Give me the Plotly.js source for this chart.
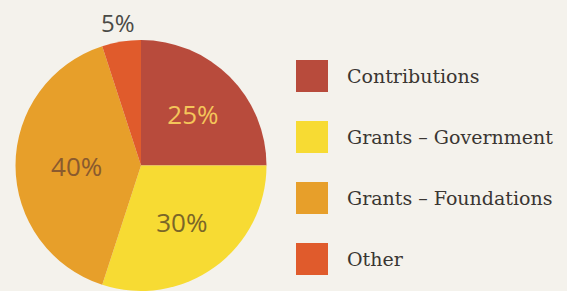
<!DOCTYPE html>
<html>
<head>
<meta charset="utf-8">
<script src="https://cdn.plot.ly/plotly-3.0.1.min.js"></script>
<style>html,body{margin:0;padding:0;background:#f4f2ec;}#chart{width:567px;height:291px;}</style>
</head>
<body>
<div id="chart"></div>
<script>
var categories = ["Contributions", "Grants \u2013 Government", "Grants \u2013 Foundations", "Other"];
var values = [25, 30, 40, 5];
var colors = ["#b84b3c", "#f7db33", "#e79f2a", "#e05b2c"];
var textColors = ["#f4c55a", "#7a6628", "#8a5a2e", "#4a4a46"];
var insideLabel = [true, true, true, false];

var W = 567, H = 291;
var dom = {x: [15.5/W, 266.5/W], y: [0, 1 - 40/H]};
var total = values.reduce(function(a, b){ return a + b; }, 0);

var trace = {
  type: "pie",
  labels: categories,
  values: values,
  sort: false,
  direction: "clockwise",
  rotation: 0,
  marker: {colors: colors, line: {width: 0}},
  texttemplate: insideLabel.map(function(v){ return v ? "%{percent:.0%}" : ""; }),
  textposition: "inside",
  insidetextorientation: "horizontal",
  textfont: {family: "Open Sans", size: 26, color: textColors},
  hoverinfo: "none",
  showlegend: false,
  domain: dom
};

var shapes = [], annotations = [];
var legX0 = 296/W, legX1 = 328/W, boxH = 32/H;
var legTop = 76, legStep = 61;
for (var i = 0; i < categories.length; i++) {
  var cy = 1 - (legTop + i*legStep)/H;
  shapes.push({type: "rect", xref: "paper", yref: "paper",
    x0: legX0, x1: legX1, y0: cy - boxH/2, y1: cy + boxH/2,
    fillcolor: colors[i], line: {width: 0}});
  annotations.push({xref: "paper", yref: "paper", x: 345/W, y: cy,
    xanchor: "left", yanchor: "middle", showarrow: false, text: categories[i],
    font: {family: "DejaVu Serif", size: 19, color: "#3a3632"}});
}

// outside labels, placed along each slice's mid-angle
var pcx = (dom.x[0] + dom.x[1]) / 2 * W;
var pcy = (1 - (dom.y[0] + dom.y[1]) / 2) * H;
var pr = Math.min((dom.x[1]-dom.x[0])*W, (dom.y[1]-dom.y[0])*H) / 2;
var cum = 0;
for (var j = 0; j < values.length; j++) {
  var mid = (cum + values[j] / 2) / total * 2 * Math.PI;
  cum += values[j];
  if (insideLabel[j]) continue;
  var rr = pr + 19;
  var px = pcx + rr * Math.sin(mid), py = pcy - rr * Math.cos(mid);
  annotations.push({xref: "paper", yref: "paper", x: px / W, y: 1 - py / H,
    xanchor: "center", yanchor: "middle", showarrow: false,
    text: Math.round(values[j] / total * 100) + "%",
    font: {family: "Open Sans", size: 24, color: textColors[j]}});
}

var layout = {
  width: W, height: H,
  margin: {l: 0, r: 0, t: 0, b: 0},
  paper_bgcolor: "#f4f2ec",
  plot_bgcolor: "#f4f2ec",
  showlegend: false,
  shapes: shapes,
  annotations: annotations
};
Plotly.newPlot("chart", [trace], layout, {displayModeBar: false, staticPlot: true});
</script>
</body>
</html>
